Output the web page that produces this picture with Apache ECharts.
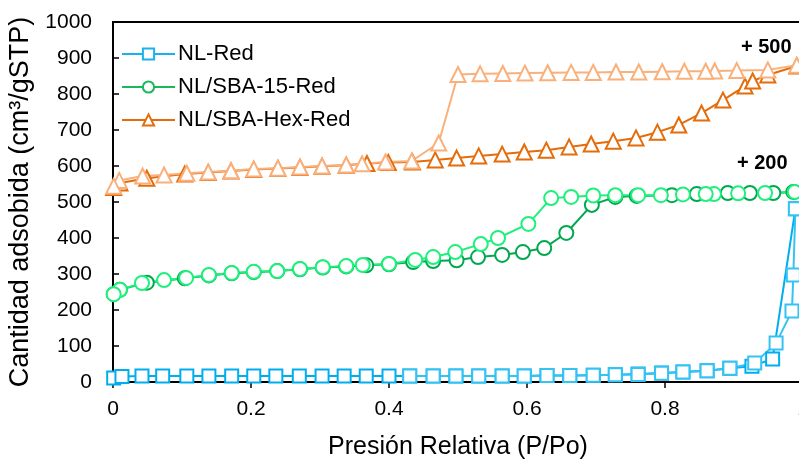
<!DOCTYPE html>
<html>
<head>
<meta charset="utf-8">
<script src="https://cdn.jsdelivr.net/npm/echarts@6/dist/echarts.min.js"></script>
<style>
  html, body { margin: 0; padding: 0; background: #fff; }
  #chart { width: 799px; height: 461px; }
</style>
</head>
<body>
<div id="chart"></div>
<script>
// Presión relativa (P/Po) y cantidad adsorbida, rama de adsorción / desorción
const nlRedAds = [
  [0.001, 11], [0.013, 15], [0.042, 17], [0.072, 17], [0.107, 17], [0.139, 17],
  [0.172, 17], [0.204, 17], [0.236, 17], [0.270, 17], [0.303, 17], [0.335, 17],
  [0.367, 17], [0.400, 17], [0.430, 17], [0.464, 17], [0.497, 17], [0.530, 17],
  [0.564, 17], [0.596, 17], [0.629, 18], [0.662, 18], [0.696, 19], [0.728, 20],
  [0.761, 22], [0.795, 25], [0.826, 28], [0.861, 31], [0.894, 38], [0.926, 44],
  [0.956, 64], [0.989, 481]
]
const nlRedDes = [
  [0.989, 481], [0.986, 297], [0.984, 197], [0.961, 108], [0.930, 53], [0.894, 38],
  [0.861, 31], [0.826, 28], [0.795, 24], [0.761, 21], [0.728, 20], [0.696, 19],
  [0.662, 18], [0.629, 18], [0.596, 17], [0.564, 17], [0.530, 17], [0.497, 17],
  [0.464, 17], [0.430, 17]
]
const sba15Ads = [
  [0.001, 244], [0.010, 256], [0.049, 276], [0.104, 288], [0.139, 296], [0.172, 302],
  [0.204, 305], [0.238, 308], [0.271, 313], [0.304, 318], [0.338, 321], [0.367, 324],
  [0.400, 327], [0.435, 333], [0.464, 336], [0.498, 338], [0.529, 347], [0.564, 353],
  [0.594, 361], [0.625, 372], [0.657, 414], [0.694, 492], [0.728, 514], [0.759, 517],
  [0.810, 519], [0.846, 522], [0.891, 525], [0.923, 525], [0.957, 525], [0.986, 528]
]
const sba15Des = [
  [0.988, 528], [0.945, 525], [0.906, 524], [0.871, 522], [0.859, 522], [0.826, 521],
  [0.794, 519], [0.761, 519], [0.728, 519], [0.696, 518], [0.664, 514], [0.635, 511],
  [0.602, 439], [0.558, 400], [0.533, 383], [0.496, 361], [0.464, 347], [0.438, 339],
  [0.400, 328], [0.362, 325], [0.338, 322], [0.304, 319], [0.271, 314], [0.238, 308],
  [0.204, 306], [0.172, 303], [0.139, 297], [0.106, 289], [0.074, 283], [0.042, 275],
  [0.010, 256], [0.001, 244]
]
const hexAds = [
  [0.001, 540], [0.010, 553], [0.049, 566], [0.104, 578], [0.138, 582], [0.171, 586],
  [0.204, 590], [0.239, 593], [0.271, 596], [0.303, 599], [0.338, 602], [0.368, 607],
  [0.399, 610], [0.434, 611], [0.467, 617], [0.498, 622], [0.530, 628], [0.564, 633],
  [0.596, 639], [0.628, 644], [0.661, 653], [0.693, 661], [0.725, 669], [0.758, 678],
  [0.789, 694], [0.820, 714], [0.853, 747], [0.884, 783], [0.916, 822], [0.927, 836],
  [0.949, 853], [0.991, 878]
]
const hexDes = [
  [0.991, 880], [0.949, 867], [0.904, 865], [0.872, 864], [0.859, 863], [0.828, 863],
  [0.796, 862], [0.762, 861], [0.729, 861], [0.696, 860], [0.664, 860], [0.630, 859],
  [0.597, 858], [0.565, 857], [0.532, 856], [0.500, 854], [0.472, 664], [0.433, 614],
  [0.395, 611], [0.361, 606], [0.338, 603], [0.303, 600], [0.271, 597], [0.239, 594],
  [0.204, 592], [0.171, 587], [0.138, 583], [0.107, 580], [0.074, 575], [0.043, 572],
  [0.009, 560], [0.001, 544]
]
const legendNames = ['NL-Red', 'NL/SBA-15-Red', 'NL/SBA-Hex-Red']
const offsetLabels = ['+ 500', '+ 200']

const font = 'Liberation Sans, Arial, sans-serif'

function isoSeries(name, data, color, symbol, size) {
  return {
    name: name,
    type: 'line',
    data: data,
    symbol: symbol,
    symbolSize: size,
    showAllSymbol: true,
    clip: false,
    lineStyle: { color: color, width: 2 },
    itemStyle: { color: '#fff', borderColor: color, borderWidth: 2 },
    emphasis: { disabled: true },
    z: 2
  }
}

function legendItem(name, color) {
  return { name: name, itemStyle: { color: '#fff', borderColor: color, borderWidth: 2 }, lineStyle: { color: color, width: 2 } }
}

const myChart = echarts.init(document.getElementById('chart'))
const option = {
  animation: false,
  textStyle: { fontFamily: font },
  grid: {
    left: 113, top: 22, width: 690, height: 360,
    containLabel: false,
    outerBoundsMode: 'none',
    show: true, borderColor: '#000', borderWidth: 2
  },
  legend: {
    data: [
      legendItem(legendNames[0], '#1AB2EE'),
      legendItem(legendNames[1], '#19B85A'),
      legendItem(legendNames[2], '#E46C0A')
    ],
    orient: 'vertical',
    left: 116,
    top: 38,
    itemWidth: 53,
    itemHeight: 14,
    itemGap: 11,
    textStyle: { fontSize: 22, color: '#000', fontFamily: font, padding: [0, 0, 0, -2] }
  },
  xAxis: {
    type: 'value',
    min: 0, max: 1, interval: 0.2,
    name: 'Presión Relativa (P/Po)',
    nameLocation: 'middle',
    nameGap: 53,
    nameTextStyle: { fontSize: 25, color: '#000', fontFamily: font },
    axisLine: { lineStyle: { color: '#000', width: 2 } },
    axisTick: { inside: false, length: 6, lineStyle: { color: '#000', width: 1.5 } },
    axisLabel: { fontSize: 21, color: '#000', margin: 17, fontFamily: font },
    splitLine: { show: false }
  },
  yAxis: {
    type: 'value',
    min: 0, max: 1000, interval: 100,
    name: 'Cantidad adsobida (cm³/gSTP)',
    nameLocation: 'middle',
    nameGap: 73,
    nameTextStyle: { fontSize: 27, color: '#000', fontFamily: font },
    axisLine: { lineStyle: { color: '#000', width: 2 } },
    axisTick: { inside: true, length: 6, lineStyle: { color: '#000', width: 1.5 } },
    axisLabel: { fontSize: 21, color: '#000', margin: 21, fontFamily: font, formatter: function (v) { return String(v) } },
    splitLine: { show: false }
  },
  graphic: [
    { type: 'text', left: 741, top: 37, style: { text: offsetLabels[0], font: 'bold 20px ' + font, fill: '#000' } },
    { type: 'text', left: 737, top: 153, style: { text: offsetLabels[1], font: 'bold 20px ' + font, fill: '#000' } }
  ],
  series: [
    isoSeries(legendNames[0], nlRedAds, '#00AEEF', 'rect', 13),
    isoSeries(legendNames[0] + ' des', nlRedDes, '#35C3F3', 'rect', 13),
    isoSeries(legendNames[1], sba15Ads, '#00A850', 'circle', 14),
    isoSeries(legendNames[1] + ' des', sba15Des, '#1EF07C', 'circle', 14),
    isoSeries(legendNames[2], hexAds, '#E46C0A', 'triangle', 15),
    isoSeries(legendNames[2] + ' des', hexDes, '#F9B07A', 'triangle', 15)
  ]
}
myChart.setOption(option)
</script>
</body>
</html>
